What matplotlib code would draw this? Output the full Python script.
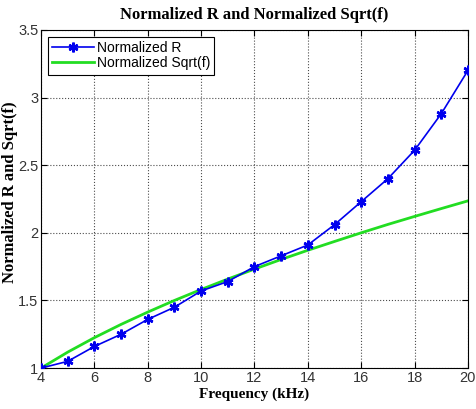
import matplotlib
matplotlib.use("Agg")
import matplotlib.pyplot as plt

freq = [4, 5, 6, 7, 8, 9, 10, 11, 12, 13, 14, 15, 16, 17, 18, 19, 20]
norm_r = [1.00, 1.05, 1.16, 1.25, 1.36, 1.45, 1.57, 1.64, 1.75, 1.83, 1.91,
          2.06, 2.23, 2.40, 2.61, 2.88, 3.20]
norm_sqrt = [1.000, 1.118, 1.225, 1.323, 1.414, 1.500, 1.581, 1.658, 1.732,
             1.803, 1.871, 1.936, 2.000, 2.062, 2.121, 2.179, 2.236]

xticks = [4, 6, 8, 10, 12, 14, 16, 18, 20]
yticks = [1, 1.5, 2, 2.5, 3, 3.5]
ytick_labels = ['1', '1.5', '2', '2.5', '3', '3.5']

fig = plt.figure(figsize=(4.77, 4.09), dpi=100)
ax = fig.add_axes([0.086, 0.100, 0.895, 0.827])

ax.plot(freq, norm_sqrt, color='#22dd22', linewidth=2, label='Normalized Sqrt(f)', zorder=2)
ax.plot(freq, norm_r, color='#0000ee', linewidth=1.2, marker=(6, 2, 0), markersize=7,
        markeredgewidth=1.8, label='Normalized R', zorder=3)

ax.set_xlim(4, 20)
ax.set_ylim(1, 3.5)
ax.set_xticks(xticks)
ax.set_yticks(yticks)
ax.set_yticklabels(ytick_labels)
ax.tick_params(direction='in', top=True, right=True, labelsize=10.5, length=4,
               labelcolor='#333333', pad=2)
for lbl in ax.get_xticklabels() + ax.get_yticklabels():
    lbl.set_family('Liberation Sans')
ax.grid(True, linestyle=':', color='black', linewidth=0.8, alpha=0.7)

serif = dict(family='Liberation Serif', fontweight='bold')
ax.set_title('Normalized R and Normalized Sqrt(f)', pad=8, fontsize=12, **serif)
ax.set_xlabel('Frequency (kHz)', labelpad=2, fontsize=11, **serif)
ax.set_ylabel('Normalized R and Sqrt(f)', fontsize=12, **serif)
ax.yaxis.set_label_coords(-0.054, 0.52)

handles, labels = ax.get_legend_handles_labels()
leg = ax.legend(handles[::-1], labels[::-1], loc='upper left', fancybox=False,
                edgecolor='black', framealpha=1, borderaxespad=0.5,
                prop={'family': 'Liberation Sans', 'size': 10},
                handlelength=3, handletextpad=0.2, borderpad=0.3, labelspacing=0.1)
leg.get_frame().set_linewidth(0.8)

fig.savefig('out.png', dpi=100)
